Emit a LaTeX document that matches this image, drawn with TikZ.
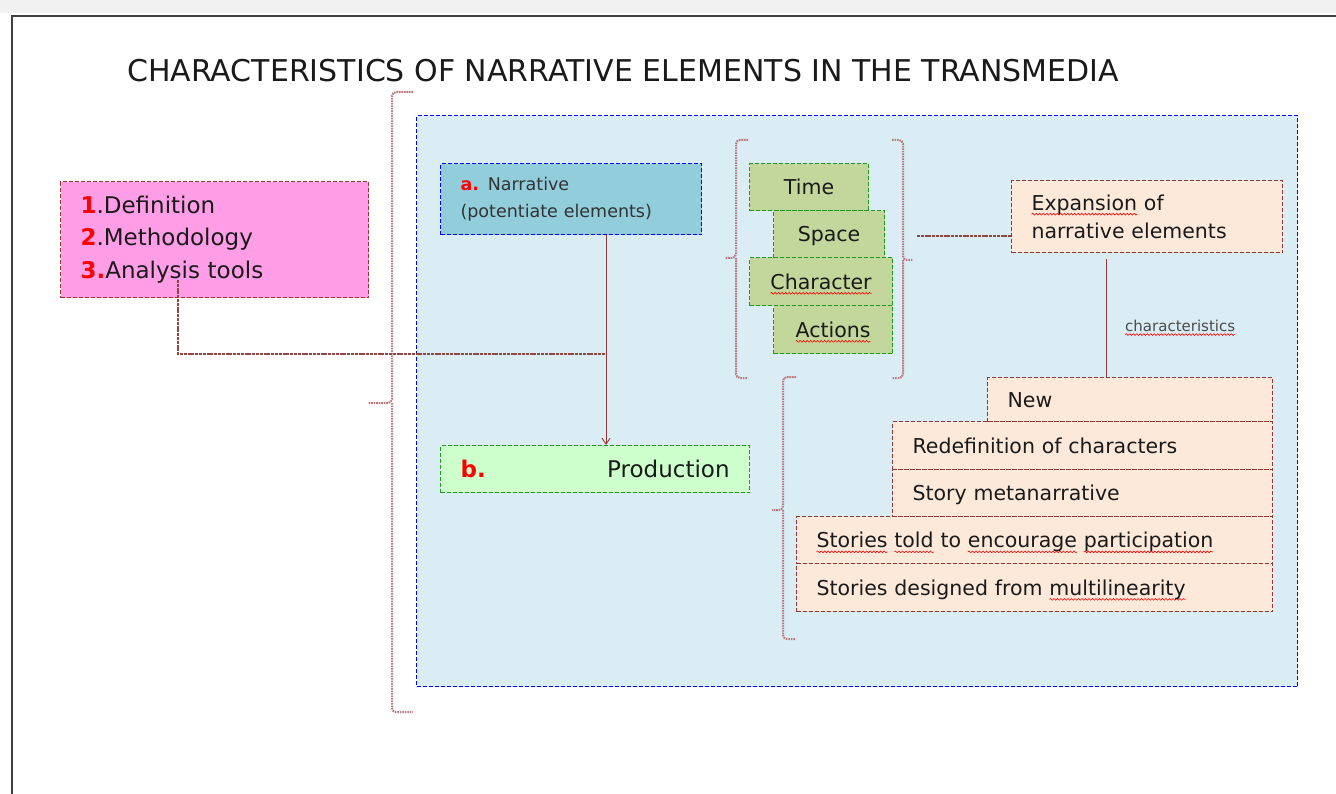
\documentclass[tikz,border=0pt]{standalone}
\usepackage{fontspec}
\setmainfont{DejaVu Sans}
\usetikzlibrary{arrows.meta,decorations.pathmorphing}
\newsavebox\sqbox
\newlength\sqlen
\newcommand\sq[2][4]{\sbox\sqbox{#2}\setlength\sqlen{\wd\sqbox}\rlap{\tikz[x=1pt,y=1pt,baseline=0pt]{\path (0,0);\draw[overlay, solid, red, line width=0.6pt, decorate, decoration={snake, amplitude=0.9pt, segment length=3.5pt}] (0,-#1) -- (\sqlen,-#1);}}\usebox\sqbox}
\definecolor{pinkf}{HTML}{FF9DE6}
\definecolor{bluef}{HTML}{DAEDF4}
\definecolor{narrf}{HTML}{92CDDC}
\definecolor{prodf}{HTML}{CCFFCC}
\definecolor{greenf}{HTML}{C3D69B}
\definecolor{peachf}{HTML}{FDE9D9}
\definecolor{dred}{HTML}{953735}
\definecolor{dgreen}{HTML}{1E9A1E}
\definecolor{brk}{RGB}{185,120,125}
\definecolor{txt}{HTML}{1A1A1A}
\definecolor{strip}{HTML}{F1F1F1}
\definecolor{framec}{HTML}{404040}
\tikzset{
  bx/.style={anchor=north west, inner sep=0pt, dash pattern=on 4pt off 2pt, line width=1.1pt, text=txt},
  oneline/.style={text depth=0pt},
  redbx/.style={bx, draw=dred},
  greenbx/.style={bx, draw=dgreen},
  bluebx/.style={bx, draw=blue},
  lefttxt/.style={align=left, inner xsep=20pt},
  body/.style={font=\fontsize{20.5}{28}\selectfont},
  brkline/.style={draw=brk, line width=2pt, dash pattern=on 1.6pt off 0.9pt, rounded corners=4pt},
  conn/.style={draw=dred, line width=0.9pt},
  conn2/.style={draw=dred!80!gray, line width=1.3pt, dash pattern=on 3pt off 0.8pt},
}
\begin{document}
\begin{tikzpicture}[x=1pt,y=-1pt]
\useasboundingbox (0,0) rectangle (1336,794);
\fill[strip] (0,0) rectangle (1336,13);
\draw[framec, line width=1.5pt] (12,794) -- (12,16) -- (1336,16);

\node[anchor=base west, inner sep=0pt, font=\fontsize{30}{31}\selectfont, text=txt] (title) at (127,82)
  {CHARACTERISTICS OF NARRATIVE ELEMENTS IN THE TRANSMEDIA};

% big bracket
\draw[brkline] (413,92) -- (392,92) -- (392,403) -- (368,403);
\draw[brkline] (392,403) -- (392,712) -- (413,712);

% blue panel
\node[bluebx, fill=bluef, line width=1.3pt, minimum width=881pt, minimum height=571pt] (panel) at (416,115) {};

% pink box
\node[redbx, fill=pinkf, lefttxt, minimum width=308pt, minimum height=116pt, text width=268pt,
      font=\fontsize{23}{32.5}\selectfont] (pink) at (60,181)
  {{\color{red}\bfseries 1}.Definition\\{\color{red}\bfseries 2}.Methodology\\{\color{red}\bfseries 3.}Analysis tools};

% narrative box
\node[bluebx, fill=narrf, lefttxt, minimum width=261pt, minimum height=71pt, text width=221pt,
      font=\fontsize{17.5}{27}\selectfont, text=black!80] (narr) at (440,163)
  {{\color{red}\bfseries a.} Narrative\\(potentiate elements)};

% production box
\node[greenbx, oneline, fill=prodf, lefttxt, minimum width=309pt, minimum height=47pt, text width=269pt,
      font=\fontsize{23}{28}\selectfont] (prod) at (440,445)
  {{\color{red}\bfseries b.}\hfill Production};

% green stack
\node[greenbx, oneline, fill=greenf, body, minimum width=119pt, minimum height=47pt] (time) at (749,163) {Time};
\node[greenbx, oneline, fill=greenf, body, minimum width=111pt, minimum height=47pt] (space) at (773,210) {Space};
\node[greenbx, oneline, fill=greenf, body, minimum width=143pt, minimum height=48pt] (char) at (749,257) {\sq{Character}};
\node[greenbx, oneline, fill=greenf, body, minimum width=119pt, minimum height=48pt] (act) at (773,305) {\sq{Actions}};

% green brackets
\draw[brkline] (748,140) -- (736,140) -- (736,258) -- (725,258);
\draw[brkline] (736,258) -- (736,378) -- (748,378);
\draw[brkline] (892,140) -- (903,140) -- (903,260) -- (913,260);
\draw[brkline] (903,260) -- (903,378) -- (892,378);

% expansion box
\node[redbx, fill=peachf, lefttxt, body, minimum width=271pt, minimum height=72pt, text width=231pt] (exp) at (1011,180)
  {\sq{Expansion} of\\narrative elements};

% characteristics stack
\node[redbx, oneline, fill=peachf, lefttxt, body, minimum width=285pt, minimum height=44pt, text width=245pt] (new) at (987,377) {New};
\node[redbx, oneline, fill=peachf, lefttxt, body, minimum width=380pt, minimum height=48pt, text width=340pt] (redef) at (892,421) {Redefinition of characters};
\node[redbx, oneline, fill=peachf, lefttxt, body, minimum width=380pt, minimum height=47pt, text width=340pt] (meta) at (892,469) {Story metanarrative};
\node[redbx, oneline, fill=peachf, lefttxt, body, minimum width=476pt, minimum height=47pt, text width=436pt] (told) at (796,516)
  {\sq{Stories} \sq{told} to \sq{encourage} \sq{participation}};
\node[redbx, oneline, fill=peachf, lefttxt, body, minimum width=476pt, minimum height=48pt, text width=436pt] (designed) at (796,563)
  {Stories designed from \sq{multilinearity}};

% lower bracket
\draw[brkline] (796,377) -- (783,377) -- (783,510) -- (772,510);
\draw[brkline] (783,510) -- (783,639) -- (796,639);

% label
\node[anchor=west, inner sep=0pt, font=\fontsize{15}{16}\selectfont, text=black!70] (charlbl) at (1125,326) {\sq[3]{characteristics}};

% connectors
\coordinate (nj) at (606,354);
\coordinate (ps) at (178,280);
\coordinate (gb) at (917,236);
\coordinate (ex) at (1106,0);
\draw[conn2] (ps) |- (nj);
\draw[conn, -{Straight Barb[length=6pt,width=8pt]}] (narr.south -| nj) -- (prod.north -| nj);
\draw[conn2] (gb) -- (exp.west |- gb);
\draw[conn] ([yshift=-6pt]exp.south -| ex) -- (new.north -| ex);
\end{tikzpicture}
\end{document}
